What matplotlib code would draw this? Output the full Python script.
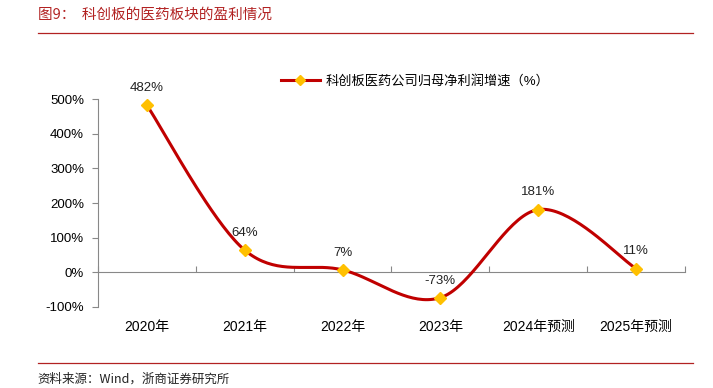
import matplotlib
matplotlib.use("Agg")
import matplotlib.pyplot as plt
from matplotlib.lines import Line2D
import numpy as np

plt.rcParams["font.family"] = ["Liberation Sans", "Noto Sans CJK SC", "DejaVu Sans"]

# ── Data ──────────────────────────────────────────────────────────────────────
categories = ["2020年", "2021年", "2022年", "2023年", "2024年预测", "2025年预测"]
growth = [482, 64, 7, -73, 181, 11]
labels = ["482%", "64%", "7%", "-73%", "181%", "11%"]
series_name = "科创板医药公司归母净利润增速（%）"

RED = "#C00000"
GOLD = "#FFC000"
TITLE_RED = "#B22222"


def smooth(xs, ys, n=40):
    """Excel-style smoothed line (Catmull-Rom as cubic Bezier)."""
    pts = np.column_stack([xs, ys]).astype(float)
    ext = np.vstack([pts[0], pts, pts[-1]])
    out = []
    t = np.linspace(0, 1, n)[:, None]
    for i in range(1, len(ext) - 2):
        p0, p1, p2, p3 = ext[i - 1], ext[i], ext[i + 1], ext[i + 2]
        c1 = p1 + (p2 - p0) / 6
        c2 = p2 - (p3 - p1) / 6
        seg = ((1 - t) ** 3) * p1 + 3 * ((1 - t) ** 2) * t * c1 \
            + 3 * (1 - t) * t ** 2 * c2 + t ** 3 * p2
        out.append(seg if i == 1 else seg[1:])
    s = np.vstack(out)
    return s[:, 0], s[:, 1]


fig = plt.figure(figsize=(7.13, 3.88), dpi=100)
fig.patch.set_facecolor("white")
ax = fig.add_axes([0.1374, 0.2088, 0.8233, 0.536])

x = np.arange(len(categories))
sx, sy = smooth(x, growth)
ax.plot(sx, sy, color=RED, lw=2.2, zorder=3, solid_capstyle="round")
ax.plot(x, growth, ls="none", marker="D", ms=6, color=GOLD, zorder=4)

for xi, yi, lab in zip(x, growth, labels):
    ax.annotate(lab, (xi, yi), xytext=(0, 8), textcoords="offset points",
                ha="center", va="bottom", fontsize=9.5, color="#222222")

ax.set_xlim(-0.5, len(categories) - 0.5)
ax.set_ylim(-100, 500)
ax.set_yticks(range(-100, 501, 100))
ax.set_yticklabels([f"{v}%" for v in range(-100, 501, 100)], fontsize=9.5)
ax.set_xticks(np.arange(-0.5, len(categories), 1.0))
ax.set_xticklabels([])
ax.set_xticks(x, minor=True)
ax.set_xticklabels(categories, minor=True, fontsize=9.5)
ax.tick_params(axis="x", which="major", direction="in", length=4,
               color="#888888", width=0.8)
ax.tick_params(axis="x", which="minor", length=0, pad=34)
ax.tick_params(axis="y", direction="out", length=4, color="#888888",
               width=0.8, pad=6)

for side in ("top", "right"):
    ax.spines[side].set_visible(False)
ax.spines["bottom"].set_position(("data", 0))
ax.spines["bottom"].set_color("#888888")
ax.spines["left"].set_color("#888888")
ax.spines["bottom"].set_linewidth(0.8)
ax.spines["left"].set_linewidth(0.8)

handle = Line2D([], [], color=RED, lw=2.2, marker="D", ms=5,
                markerfacecolor=GOLD, markeredgecolor=GOLD)
fig.legend([handle], [series_name], loc="center", bbox_to_anchor=(0.582, 0.79),
           frameon=False, fontsize=9.5, handlelength=3, handletextpad=0.4)

# Title and source
fig.text(0.053, 0.963, "图9：  科创板的医药板块的盈利情况", fontsize=10.5,
         color=TITLE_RED, ha="left", va="center",
         family=["Noto Sans CJK SC", "DejaVu Sans"])
fig.add_artist(Line2D([0.053, 0.972], [0.915, 0.915], color=TITLE_RED, lw=0.9))
fig.add_artist(Line2D([0.053, 0.972], [0.064, 0.064], color=TITLE_RED, lw=0.9))
fig.text(0.053, 0.006, "资料来源：Wind，浙商证券研究所", fontsize=9,
         color="#222222", ha="left", va="bottom",
         family=["Noto Sans CJK SC", "DejaVu Sans"])

fig.savefig("out.png", dpi=100, facecolor="white")
